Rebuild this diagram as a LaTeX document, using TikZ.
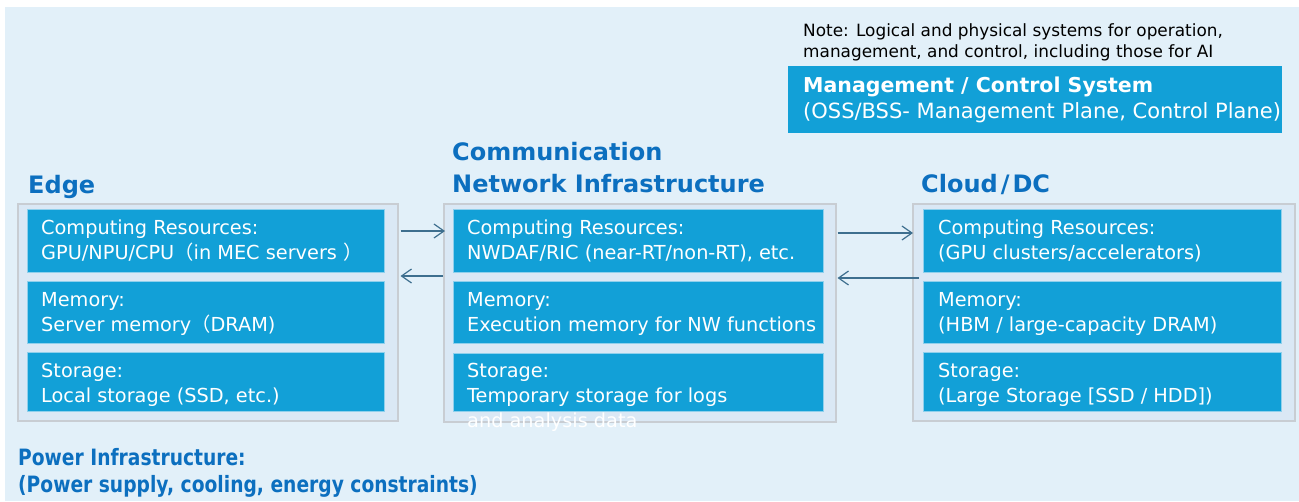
\documentclass[tikz,border=0pt]{standalone}
\usepackage{fontspec}
\setmainfont{DejaVu Sans}
\newfontfamily\cjk{Noto Sans CJK JP}
\newfontfamily\powerfont{DejaVu Sans}[FakeStretch=0.83]
\usetikzlibrary{arrows.meta}
\definecolor{bgblue}{HTML}{E2F0F9}
\definecolor{grpfill}{HTML}{DAE8F5}
\definecolor{grpline}{HTML}{C8CDD3}
\definecolor{cellblue}{HTML}{12A0D7}
\definecolor{cellline}{HTML}{8FD0EC}
\definecolor{titleblue}{HTML}{0C6FBF}
\definecolor{arrowc}{HTML}{3E6F8F}
\tikzset{
  grp/.style={draw=grpline, fill=grpfill, line width=1.5pt, inner sep=0pt, anchor=north west},
  cell/.style={draw=cellline, fill=cellblue, line width=0.8pt, inner sep=0pt, anchor=north west},
  celltext/.style={anchor=base west, align=left, text=white, inner sep=0pt, font=\fontsize{19.3}{25}\selectfont},
  ttl/.style={anchor=base west, align=left, text=titleblue, inner sep=0pt, font=\bfseries\fontsize{24}{32}\selectfont},
  arr/.style={draw=arrowc, line width=1.2pt, -{Straight Barb[length=10pt,width=14pt]}},
}
\begin{document}
\begin{tikzpicture}[x=1pt,y=-1pt]
\useasboundingbox (0,0) rectangle (1299,501);
\fill[bgblue] (5,7) rectangle (1299,501);

% note and management box (base anchor = last line)
\node[anchor=base west, align=left, inner sep=0pt, font=\fontsize{16.9}{21}\selectfont] (note) at (803,57)
  {Note: Logical and physical systems for operation,\\management, and control, including those for AI};
\node[cell, minimum width=494pt, minimum height=67pt, draw=none] (mgmt) at (788,66) {};
\node[anchor=base west, align=left, text=white, inner sep=0pt, font=\fontsize{20.5}{26}\selectfont] (mgmtT) at (803,118)
  {\textbf{Management / Control System}\\{\fontsize{21}{26}\selectfont(OSS/BSS- Management Plane, Control Plane)}};

% titles
\node[ttl] (edgeT) at (28,193) {Edge};
\node[ttl] (commT) at (452,192) {Communication\\Network Infrastructure};
\node[ttl] (cloudT) at (921,192) {Cloud\hspace{3pt}/\hspace{3pt}DC};

% groups
\node[grp, minimum width=380pt, minimum height=217pt] (edgeG) at (17,203) {};
\node[grp, minimum width=392pt, minimum height=218pt] (commG) at (443,203) {};
\node[grp, minimum width=382pt, minimum height=217pt] (cloudG) at (912,203) {};

% edge cells
\node[cell, minimum width=357pt, minimum height=63pt] (e1) at (27,209) {};
\node[cell, minimum width=357pt, minimum height=62pt] (e2) at (27,281) {};
\node[cell, minimum width=357pt, minimum height=59pt] (e3) at (27,352) {};
\node[celltext] (e1t) at ([shift={(14,50)}]e1.north west) {Computing Resources:\\GPU/NPU/CPU{\cjk （}in MEC servers {\cjk ）}};
\node[celltext] (e2t) at ([shift={(14,50)}]e2.north west) {Memory:\\Server memory{\cjk （}DRAM)};
\node[celltext] (e3t) at ([shift={(14,50)}]e3.north west) {Storage:\\Local storage (SSD, etc.)};

% comm cells
\node[cell, minimum width=370pt, minimum height=63pt] (c1) at (453,209) {};
\node[cell, minimum width=370pt, minimum height=62pt] (c2) at (453,281) {};
\node[cell, minimum width=370pt, minimum height=58pt] (c3) at (453,353) {};
\node[celltext] (c1t) at ([shift={(14,50)}]c1.north west) {Computing Resources:\\NWDAF/RIC (near-RT/non-RT), etc.};
\node[celltext] (c2t) at ([shift={(14,50)}]c2.north west) {Memory:\\Execution memory for NW functions};
\node[celltext] (c3t) at ([shift={(14,74)}]c3.north west) {Storage:\\Temporary storage for logs\\and analysis data};

% cloud cells
\node[cell, minimum width=358pt, minimum height=63pt] (d1) at (923,209) {};
\node[cell, minimum width=358pt, minimum height=62pt] (d2) at (923,281) {};
\node[cell, minimum width=358pt, minimum height=59pt] (d3) at (923,352) {};
\node[celltext] (d1t) at ([shift={(15,50)}]d1.north west) {Computing Resources:\\(GPU clusters/accelerators)};
\node[celltext] (d2t) at ([shift={(15,50)}]d2.north west) {Memory:\\(HBM / large-capacity DRAM)};
\node[celltext] (d3t) at ([shift={(15,50)}]d3.north west) {Storage:\\(Large Storage [SSD / HDD])};

% arrows
\coordinate (ya) at (0,231);
\coordinate (yb) at (0,276);
\coordinate (yc) at (0,233);
\coordinate (yd) at (0,278);
\draw[arr] ([xshift=2pt]edgeG.east |- ya) -- ([xshift=2pt]commG.west |- ya);
\draw[arr] (commG.west |- yb) -- ([xshift=2pt]edgeG.east |- yb);
\draw[arr] ([xshift=1pt]commG.east |- yc) -- ([xshift=1pt]cloudG.west |- yc);
\draw[arr] ([xshift=7pt]cloudG.west |- yd) -- ([xshift=1pt]commG.east |- yd);

% power
\node[anchor=base west, align=left, text=titleblue, inner sep=0pt, font=\powerfont\bfseries\fontsize{22.5}{27}\selectfont] (power) at (18,492)
  {Power Infrastructure:\\(Power supply, cooling, energy constraints)};
\end{tikzpicture}
\end{document}
